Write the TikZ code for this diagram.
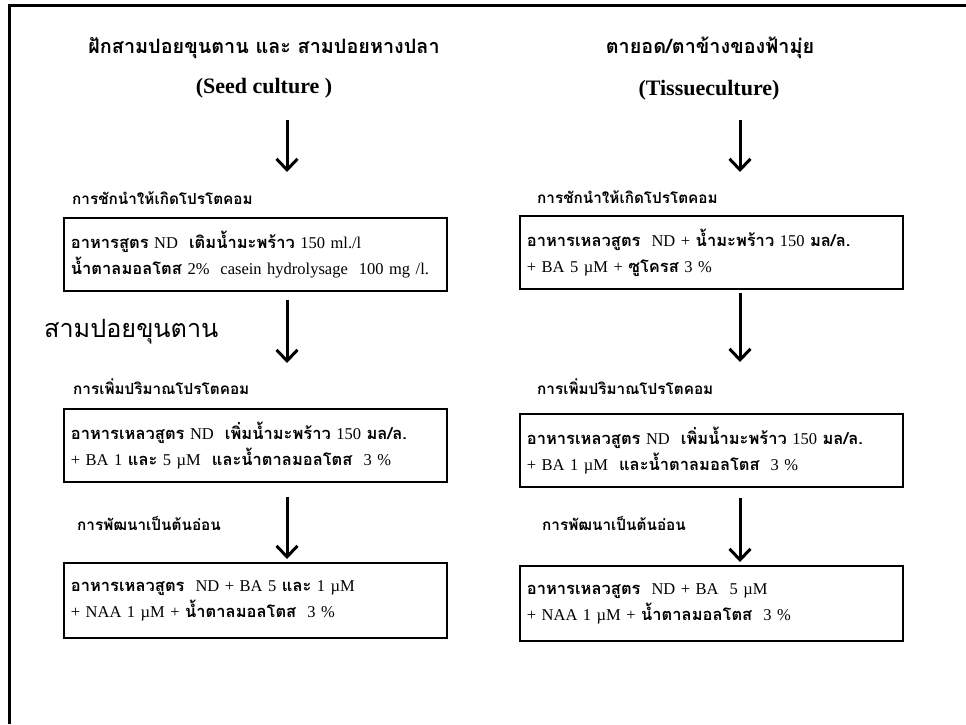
\documentclass[tikz,border=0pt]{standalone}
\usepackage{fontspec}
\setmainfont{Liberation Serif}
\newfontfamily\thf[Script=Thai,Scale=0.9]{Loma}
\newfontfamily\thb[Script=Thai,Scale=1.0]{Loma}
\usetikzlibrary{arrows.meta}
\newcommand\T[1]{{\thb\bfseries #1}}
\begin{document}
\begin{tikzpicture}[x=1pt,y=-1pt,
  box/.style={draw, line width=1.8pt, anchor=north west, align=left, inner xsep=7pt, inner ysep=0pt, minimum height=73pt, text width=369pt, font=\fontsize{16.5}{26}\selectfont},
  lbl/.style={anchor=west, inner sep=0pt, font=\thf\bfseries\fontsize{17}{19}\selectfont},
  ttl/.style={inner sep=0pt, font=\thf\bfseries\fontsize{22}{26}\selectfont},
  sub/.style={inner sep=0pt, font=\bfseries\fontsize{22}{24}\selectfont},
  arr/.style={line width=3pt, -{Straight Barb[length=11pt,width=21pt,line width=3pt]}}
]
\useasboundingbox (0,0) rectangle (966,724);
\fill[white] (0,0) rectangle (966,724);
\draw[line width=3pt] (9,724) -- (9,5) -- (966,5);

% left column
\node[ttl] (tl) at (264,48) {ฝักสามปอยขุนตาน และ สามปอยหางปลา};
\node[sub] (sl) at (264,88) {(Seed culture )};
\node[ttl, font=\thf\fontsize{28}{30}\selectfont, anchor=west] (side) at (44,332) {สามปอยขุนตาน};

\node[lbl] (l1) at (72,198) {การชักนำให้เกิดโปรโตคอม};
\node[box] (b1) at (63,217) {\T{อาหารสูตร} ND \ \T{เติมน้ำมะพร้าว} 150 ml./l\\ \T{น้ำตาลมอลโตส} 2\% \ casein hydrolysage \ 100 mg /l.};
\node[lbl] (l2) at (73,387) {การเพิ่มปริมาณโปรโตคอม};
\node[box] (b2) at (63,408) {\T{อาหารเหลวสูตร} ND \ \T{เพิ่มน้ำมะพร้าว} 150 \T{มล/ล.}\\ + BA 1 \T{และ} 5 µM \ \T{และน้ำตาลมอลโตส} \ 3 \%};
\node[lbl] (l3) at (77,523) {การพัฒนาเป็นต้นอ่อน};
\node[box, minimum height=75pt] (b3) at (63,562) {\T{อาหารเหลวสูตร} \ ND + BA 5 \T{และ} 1 µM\\ + NAA 1 µM + \T{น้ำตาลมอลโตส} \ 3 \%};

\coordinate (a1s) at (287,120);
\coordinate (a1e) at (287,172);
\coordinate (a2s) at (287,300);
\coordinate (a2e) at (287,363);
\coordinate (a3s) at (287,497);
\coordinate (a3e) at (287,559);
\draw[arr] (a1s) -- (a1e);
\draw[arr] (a2s) -- (a2e);
\draw[arr] (a3s) -- (a3e);

% right column
\node[ttl] (tr) at (710,48) {ตายอด/ตาข้างของฟ้ามุ่ย};
\node[sub] (sr) at (709,90) {(Tissueculture)};

\node[lbl] (r1) at (537,197) {การชักนำให้เกิดโปรโตคอม};
\node[box] (c1) at (519,215) {\T{อาหารเหลวสูตร} \ ND + \T{น้ำมะพร้าว} 150 \T{มล/ล.}\\ + BA 5 µM + \T{ซูโครส} 3 \%};
\node[lbl] (r2) at (537,387) {การเพิ่มปริมาณโปรโตคอม};
\node[box] (c2) at (519,413) {\T{อาหารเหลวสูตร} ND \ \T{เพิ่มน้ำมะพร้าว} 150 \T{มล/ล.}\\ + BA 1 µM \ \T{และน้ำตาลมอลโตส} \ 3 \%};
\node[lbl] (r3) at (542,523) {การพัฒนาเป็นต้นอ่อน};
\node[box, minimum height=75pt] (c3) at (519,565) {\T{อาหารเหลวสูตร} \ ND + BA \ 5 µM\\ + NAA 1 µM + \T{น้ำตาลมอลโตส} \ 3 \%};

\coordinate (d1s) at (740,120);
\coordinate (d1e) at (740,172);
\coordinate (d2s) at (740,293);
\coordinate (d2e) at (740,362);
\coordinate (d3s) at (740,498);
\coordinate (d3e) at (740,562);
\draw[arr] (d1s) -- (d1e);
\draw[arr] (d2s) -- (d2e);
\draw[arr] (d3s) -- (d3e);
\end{tikzpicture}
\end{document}
